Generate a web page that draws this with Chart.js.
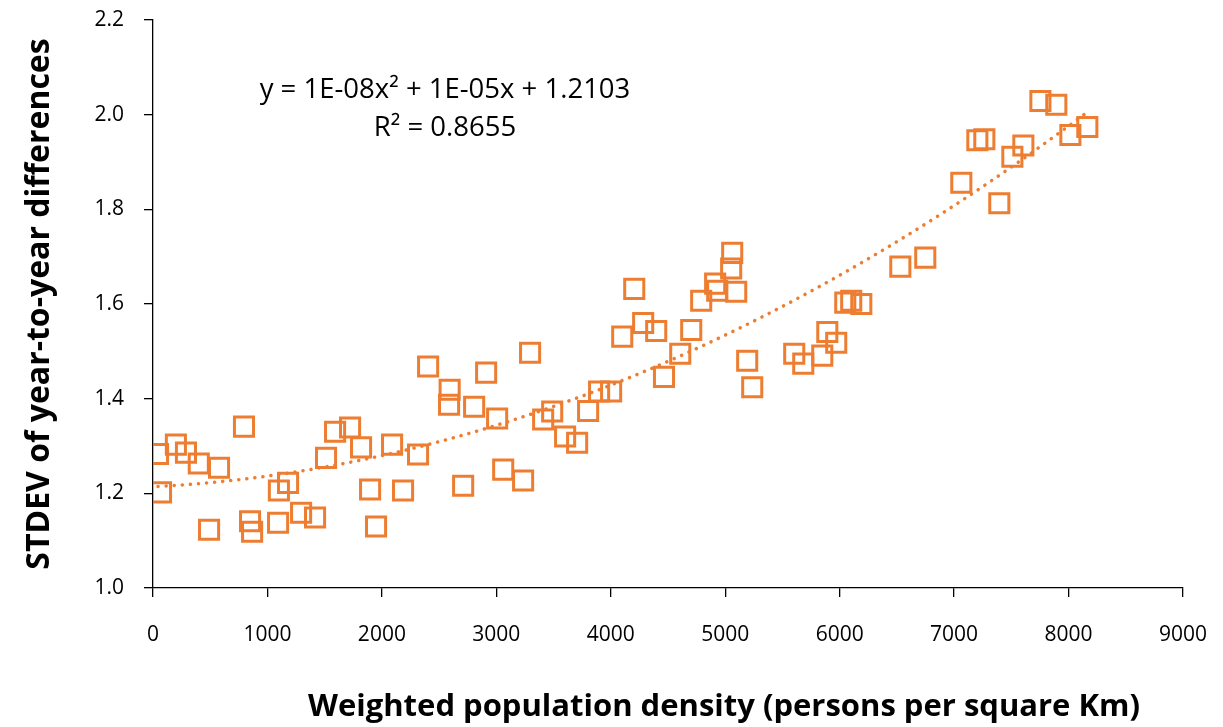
<!DOCTYPE html>
<html>
<head>
<meta charset="utf-8">
<script src="https://cdn.jsdelivr.net/npm/chart.js@4/dist/chart.umd.min.js"></script>
<style>
  html, body { margin: 0; padding: 0; background: #fff; }
  #wrap { width: 1223px; height: 727px; }
</style>
</head>
<body>
<div id="wrap"><canvas id="chart" width="1223" height="727"></canvas></div>
<script>
// density (persons per square km) and STDEV of year-to-year differences
const density = [
  44, 70, 200, 288, 400, 490, 577, 795, 848, 866,
  1093, 1100, 1180, 1294, 1416, 1512, 1591, 1722, 1818, 1897,
  1949, 2089, 2185, 2316, 2404, 2592, 2587, 2710, 2806, 2911,
  3007, 3060, 3234, 3295, 3409, 3488, 3601, 3706, 3802, 3898,
  4003, 4100, 4205, 4283, 4397, 4465, 4607, 4703, 4790, 4912,
  4930, 5052, 5061, 5096, 5192, 5236, 5603, 5682, 5848, 5892,
  5970, 6049, 6101, 6189, 6530, 6748, 7063, 7203, 7264, 7395,
  7509, 7605, 7754, 7893, 8016, 8164
];
const stdev = [
  1.283, 1.202, 1.303, 1.286, 1.263, 1.123, 1.254, 1.341, 1.141, 1.119,
  1.138, 1.206, 1.222, 1.159, 1.149, 1.275, 1.330, 1.339, 1.297, 1.208,
  1.130, 1.303, 1.206, 1.282, 1.468, 1.419, 1.387, 1.216, 1.383, 1.455,
  1.358, 1.250, 1.227, 1.497, 1.356, 1.373, 1.320, 1.307, 1.374, 1.415,
  1.415, 1.531, 1.632, 1.560, 1.543, 1.446, 1.495, 1.545, 1.607, 1.643,
  1.628, 1.675, 1.708, 1.626, 1.480, 1.424, 1.495, 1.474, 1.491, 1.541,
  1.518, 1.603, 1.607, 1.600, 1.679, 1.698, 1.856, 1.946, 1.948, 1.813,
  1.911, 1.935, 2.029, 2.021, 1.957, 1.974
];

const xTicks = [0, 1000, 2000, 3000, 4000, 5000, 6000, 7000, 8000, 9000];
const yTicks = [1.0, 1.2, 1.4, 1.6, 1.8, 2.0, 2.2];

const equationText = 'y = 1E-08x\u00B2 + 1E-05x + 1.2103';
const r2Text = 'R\u00B2 = 0.8655';
const xTitle = 'Weighted population density (persons per square Km)';
const yTitle = 'STDEV of year-to-year differences';

const orange = '#ED7D31';

// least squares quadratic, like the Excel polynomial trendline
function quadFit(xs, ys) {
  let s = [0, 0, 0, 0, 0], t = [0, 0, 0];
  for (let i = 0; i < xs.length; i++) {
    const x = xs[i] / 1000, y = ys[i];
    let p = 1;
    for (let k = 0; k < 5; k++) { s[k] += p; if (k < 3) t[k] += p * y; p *= x; }
  }
  const m = [[s[0], s[1], s[2], t[0]], [s[1], s[2], s[3], t[1]], [s[2], s[3], s[4], t[2]]];
  for (let c = 0; c < 3; c++) {
    for (let r = c + 1; r < 3; r++) {
      const f = m[r][c] / m[c][c];
      for (let k = c; k < 4; k++) m[r][k] -= f * m[c][k];
    }
  }
  const b = [0, 0, 0];
  for (let r = 2; r >= 0; r--) {
    let v = m[r][3];
    for (let k = r + 1; k < 3; k++) v -= m[r][k] * b[k];
    b[r] = v / m[r][r];
  }
  return x => b[0] + b[1] * (x / 1000) + b[2] * (x / 1000) * (x / 1000);
}

const fit = quadFit(density, stdev);
const xMin = Math.min(...density), xMax = Math.max(...density);
const trend = [];
for (let i = 0; i <= 120; i++) {
  const x = xMin + (xMax - xMin) * i / 120;
  trend.push({ x: x, y: fit(x) });
}

const points = density.map((x, i) => ({ x: x, y: stdev[i] }));

const textPlugin = {
  id: 'texts',
  afterDraw(chart) {
    const ctx = chart.ctx;
    ctx.save();
    ctx.fillStyle = '#000';
    ctx.textAlign = 'center';
    ctx.textBaseline = 'middle';
    ctx.font = '27.5px "Open Sans"';
    ctx.fillText(equationText, 445, 90);
    ctx.fillText(r2Text, 445, 128);
    ctx.font = 'bold 31px "Open Sans"';
    ctx.fillText(xTitle, 724, 707);
    ctx.restore();
  }
};

new Chart(document.getElementById('chart'), {
  type: 'scatter',
  data: {
    datasets: [
      {
        type: 'line',
        label: 'trend',
        data: trend,
        borderColor: orange,
        borderWidth: 3.5,
        borderDash: [0.1, 8],
        borderCapStyle: 'round',
        pointRadius: 0,
        fill: false,
        tension: 0
      },
      {
        label: 'STDEV',
        data: points,
        pointStyle: 'rect',
        pointRadius: 13.5,
        pointBorderWidth: 3,
        pointBorderColor: orange,
        pointBackgroundColor: 'rgba(0,0,0,0)',
        showLine: false
      }
    ]
  },
  options: {
    responsive: false,
    animation: false,
    layout: { padding: { left: 0, top: 20, right: 40, bottom: 0 } },
    plugins: { legend: { display: false }, tooltip: { enabled: false } },
    scales: {
      x: {
        type: 'linear',
        min: 0,
        max: 9000,
        afterBuildTicks: s => { s.ticks = xTicks.map(v => ({ value: v })); },
        afterFit: s => { s.height = 139; s.paddingLeft = 0; s.paddingRight = 0; },
        grid: { display: true, drawOnChartArea: false, drawTicks: true, tickLength: 9, color: '#000', lineWidth: 1.3 },
        border: { display: true, color: '#000', width: 1.3 },
        ticks: { color: '#000', font: { family: 'Open Sans', size: 21 }, padding: 25, maxRotation: 0, callback: v => String(v) }
      },
      y: {
        type: 'linear',
        min: 1.0,
        max: 2.2,
        afterBuildTicks: s => { s.ticks = yTicks.map(v => ({ value: v })); },
        afterFit: s => { s.width = 153; s.paddingTop = 0; s.paddingBottom = 0; },
        grid: { display: true, drawOnChartArea: false, drawTicks: true, tickLength: 9, color: '#000', lineWidth: 1.3 },
        border: { display: true, color: '#000', width: 1.3 },
        ticks: { color: '#000', font: { family: 'Open Sans', size: 21 }, padding: 20, callback: v => v.toFixed(1) },
        title: {
          display: true,
          text: yTitle,
          color: '#000',
          font: { family: 'Open Sans', size: 32, weight: 'bold' },
          padding: { top: 21, bottom: 0 }
        }
      }
    }
  },
  plugins: [textPlugin]
});
</script>
</body>
</html>
